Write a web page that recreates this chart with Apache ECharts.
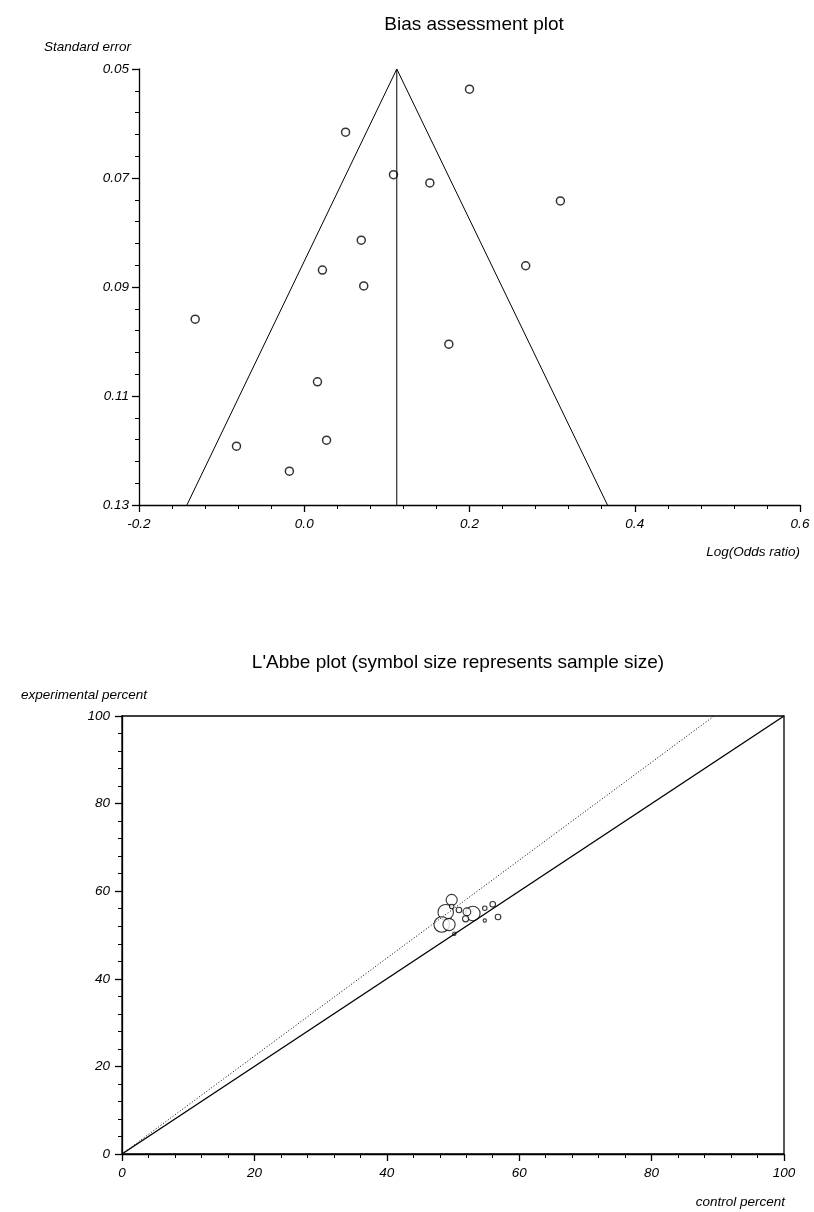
<!DOCTYPE html>
<html lang="en">
<head>
    <meta charset="utf-8">
    <title>Bias assessment and L'Abbe plot</title>
    <script type="text/javascript" src="https://cdn.jsdelivr.net/npm/echarts@6/dist/echarts.min.js"></script>
    <style>
        html, body { margin: 0; padding: 0; background: #fff; }
    </style>
</head>
<body>
<div id="main" style="width: 814px;height:1212px"></div>
<script>
    // funnel plot: log odds ratio vs standard error
    var logOR = [0.200, 0.050, 0.108, 0.152, 0.310, 0.069, 0.268, 0.022, 0.072, -0.132, 0.175, 0.016, 0.027, -0.082, -0.018];
    var stdErr = [0.0537, 0.0616, 0.0694, 0.0709, 0.0742, 0.0814, 0.0861, 0.0869, 0.0898, 0.0959, 0.1005, 0.1074, 0.1181, 0.1192, 0.1238];
    var pooled = 0.112;
    var funnelTop = 0.05;
    var funnelBottom = 0.13;
    var funnelLimits = [-0.142, 0.367];

    // L'Abbe plot
    var controlPct = [48.9, 48.3, 53.0, 49.4, 49.8, 52.1, 51.9, 50.9, 56.0, 56.8, 49.8, 54.8, 54.8, 50.2];
    var experimentalPct = [55.2, 52.4, 54.9, 52.4, 58.0, 55.3, 53.7, 55.7, 57.0, 54.1, 56.5, 56.1, 53.3, 50.3];
    var sampleSize = [784, 784, 676, 484, 400, 196, 121, 100, 100, 100, 64, 64, 36, 36];
    var pooledRatio = 1.118;

    var funnelPoints = logOR.map(function (x, i) { return [x, stdErr[i]]; });
    var labbePoints = controlPct.map(function (x, i) { return [x, experimentalPct[i], sampleSize[i]]; });

    var chartDom = document.getElementById('main');
    var myChart = echarts.init(chartDom);
    var font = 'Liberation Sans, Arial, sans-serif';

    var labelStyle = {color: '#000', fontFamily: font, fontStyle: 'italic', fontSize: 13.5};
    var tickStyle = {show: true, length: 7, lineStyle: {color: '#000', width: 1.3}};
    var minorStyle = {show: true, splitNumber: 5, length: 4, lineStyle: {color: '#000', width: 1}};
    var axisLine = {show: true, onZero: false, lineStyle: {color: '#000', width: 1.3}};

    var option = {
        animation: false,
        backgroundColor: '#fff',
        title: [
            {
                text: 'Bias assessment plot',
                left: 469, top: 10, textAlign: 'center',
                textStyle: {fontFamily: font, fontSize: 19, fontWeight: 'normal', color: '#000'}
            },
            {
                text: "L'Abbe plot (symbol size represents sample size)",
                left: 453, top: 648, textAlign: 'center',
                textStyle: {fontFamily: font, fontSize: 19, fontWeight: 'normal', color: '#000'}
            }
        ],
        graphic: [
            {type: 'text', left: 44, top: 40, style: {text: 'Standard error', font: 'italic 13.5px ' + font, fill: '#000'}},
            {type: 'text', right: 14, top: 545, style: {text: 'Log(Odds ratio)', font: 'italic 13.5px ' + font, fill: '#000'}},
            {type: 'text', left: 21, top: 688, style: {text: 'experimental percent', font: 'italic 13.5px ' + font, fill: '#000'}},
            {type: 'text', right: 29, top: 1195, style: {text: 'control percent', font: 'italic 13.5px ' + font, fill: '#000'}}
        ],
        grid: [
            {left: 139, right: 14, top: 69, bottom: 707},
            {left: 122, right: 30, top: 716, bottom: 58, show: true, borderColor: '#000', borderWidth: 1.3}
        ],
        xAxis: [
            {
                type: 'value', gridIndex: 0, position: 'bottom', min: -0.2, max: 0.6, interval: 0.2,
                axisLine: axisLine, axisTick: tickStyle, minorTick: minorStyle,
                splitLine: {show: false},
                axisLabel: Object.assign({margin: 12, formatter: function (v) { return v.toFixed(1); }}, labelStyle)
            },
            {
                type: 'value', gridIndex: 1, position: 'bottom', min: 0, max: 100, interval: 20,
                axisLine: axisLine, axisTick: tickStyle, minorTick: minorStyle,
                splitLine: {show: false},
                axisLabel: Object.assign({margin: 12}, labelStyle)
            }
        ],
        yAxis: [
            {
                // visible scale, offset so its min is a multiple of the interval
                type: 'value', gridIndex: 0, position: 'left', inverse: true, min: 0, max: funnelBottom - funnelTop, interval: 0.02,
                axisLine: axisLine, axisTick: tickStyle, minorTick: minorStyle,
                splitLine: {show: false},
                axisLabel: Object.assign({margin: 10, formatter: function (v) { return (v + funnelTop).toFixed(2); }}, labelStyle)
            },
            {
                type: 'value', gridIndex: 0, position: 'right', inverse: true, min: funnelTop, max: funnelBottom, show: false,
                axisLine: {onZero: false},
                splitLine: {show: false}
            },
            {
                type: 'value', gridIndex: 1, position: 'left', min: 0, max: 100, interval: 20,
                axisLine: axisLine, axisTick: tickStyle, minorTick: minorStyle,
                splitLine: {show: false},
                axisLabel: Object.assign({margin: 12}, labelStyle)
            }
        ],
        series: [
            {
                type: 'line', xAxisIndex: 0, yAxisIndex: 1, symbol: 'none',
                lineStyle: {color: '#000', width: 1},
                data: [[funnelLimits[0], funnelBottom], [pooled, funnelTop], [funnelLimits[1], funnelBottom]]
            },
            {
                type: 'line', xAxisIndex: 0, yAxisIndex: 1, symbol: 'none',
                lineStyle: {color: '#000', width: 1},
                data: [[pooled, funnelTop], [pooled, funnelBottom]]
            },
            {
                type: 'scatter', xAxisIndex: 0, yAxisIndex: 1, symbol: 'circle', symbolSize: 8,
                itemStyle: {color: '#fff', borderColor: '#000', borderWidth: 1.5},
                data: funnelPoints
            },
            {
                type: 'line', xAxisIndex: 1, yAxisIndex: 2, symbol: 'none',
                lineStyle: {color: '#000', width: 1.4},
                data: [[0, 0], [100, 100]]
            },
            {
                type: 'line', xAxisIndex: 1, yAxisIndex: 2, symbol: 'none',
                lineStyle: {color: '#000', width: 1, type: [1, 2]},
                data: [[0, 0], [100 / pooledRatio, 100]]
            },
            {
                type: 'scatter', xAxisIndex: 1, yAxisIndex: 2, symbol: 'circle',
                symbolSize: function (v) { return Math.sqrt(v[2]) / 1.8; },
                itemStyle: {color: '#fff', borderColor: '#000', borderWidth: 1.1},
                data: labbePoints
            }
        ]
    };

    myChart.setOption(option);
</script>
</body>
</html>
